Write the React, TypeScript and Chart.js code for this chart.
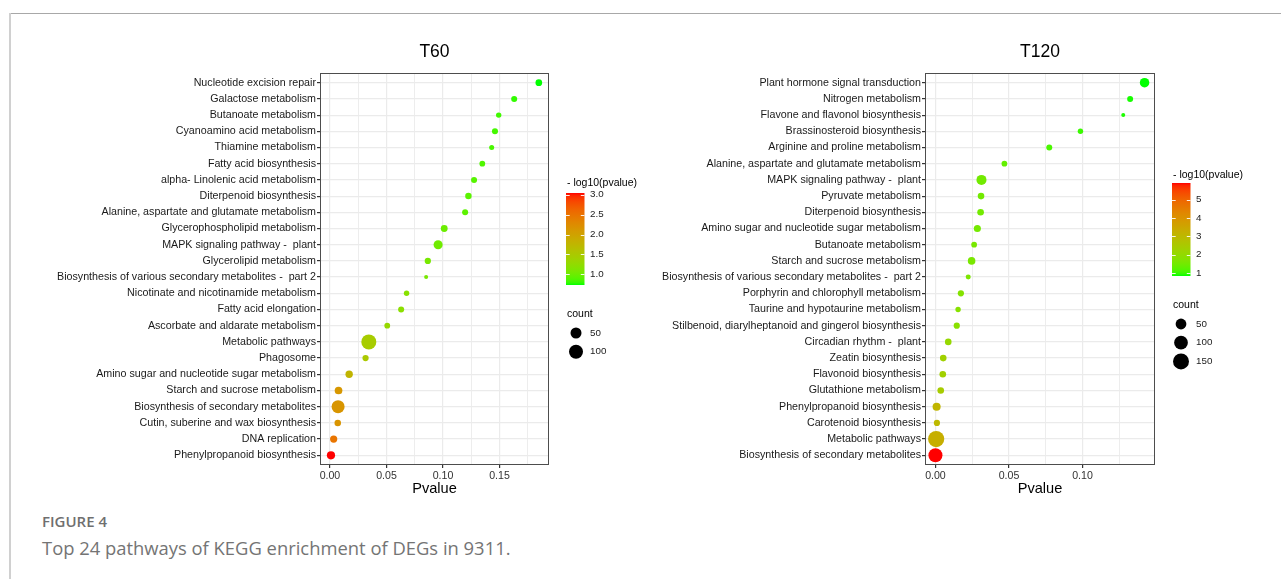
import React, { useEffect, useRef } from "react";
import { Chart, registerables } from "chart.js";

Chart.register(...registerables);

// ---------------- DATA ----------------
const t60Pathways = [
  "Nucleotide excision repair",
  "Galactose metabolism",
  "Butanoate metabolism",
  "Cyanoamino acid metabolism",
  "Thiamine metabolism",
  "Fatty acid biosynthesis",
  "alpha- Linolenic acid metabolism",
  "Diterpenoid biosynthesis",
  "Alanine, aspartate and glutamate metabolism",
  "Glycerophospholipid metabolism",
  "MAPK signaling pathway -  plant",
  "Glycerolipid metabolism",
  "Biosynthesis of various secondary metabolites -  part 2",
  "Nicotinate and nicotinamide metabolism",
  "Fatty acid elongation",
  "Ascorbate and aldarate metabolism",
  "Metabolic pathways",
  "Phagosome",
  "Amino sugar and nucleotide sugar metabolism",
  "Starch and sucrose metabolism",
  "Biosynthesis of secondary metabolites",
  "Cutin, suberine and wax biosynthesis",
  "DNA replication",
  "Phenylpropanoid biosynthesis",
];
const t60Pvalues = [
  0.1848, 0.163, 0.1493, 0.146, 0.1431, 0.1348, 0.1275, 0.1225, 0.1196, 0.1011,
  0.0957, 0.0866, 0.0851, 0.0678, 0.063, 0.0507, 0.0344, 0.0315, 0.017, 0.0076,
  0.0072, 0.0069, 0.0033, 0.00091,
];
const t60Counts = [
  10, 7, 5, 7, 4, 6, 7, 9, 7, 11, 28, 8, 3, 5, 7, 6, 120, 8, 14, 16, 82, 9, 13, 20,
];

const t120Pathways = [
  "Plant hormone signal transduction",
  "Nitrogen metabolism",
  "Flavone and flavonol biosynthesis",
  "Brassinosteroid biosynthesis",
  "Arginine and proline metabolism",
  "Alanine, aspartate and glutamate metabolism",
  "MAPK signaling pathway -  plant",
  "Pyruvate metabolism",
  "Diterpenoid biosynthesis",
  "Amino sugar and nucleotide sugar metabolism",
  "Butanoate metabolism",
  "Starch and sucrose metabolism",
  "Biosynthesis of various secondary metabolites -  part 2",
  "Porphyrin and chlorophyll metabolism",
  "Taurine and hypotaurine metabolism",
  "Stilbenoid, diarylheptanoid and gingerol biosynthesis",
  "Circadian rhythm -  plant",
  "Zeatin biosynthesis",
  "Flavonoid biosynthesis",
  "Glutathione metabolism",
  "Phenylpropanoid biosynthesis",
  "Carotenoid biosynthesis",
  "Metabolic pathways",
  "Biosynthesis of secondary metabolites",
];
const t120Pvalues = [
  0.1422, 0.1324, 0.1277, 0.0986, 0.0774, 0.0469, 0.0313, 0.031, 0.0307, 0.0285,
  0.0263, 0.0246, 0.0223, 0.0173, 0.0154, 0.0145, 0.0087, 0.0053, 0.005, 0.0036,
  0.0008, 0.001, 0.0005, 0.00000126,
];
const t120Counts = [
  34, 7, 3, 5, 7, 6, 40, 10, 10, 13, 6, 16, 4, 8, 5, 8, 10, 10, 10, 10, 20, 8, 155, 105,
];

const t60XTickValues = [0, 0.05, 0.1, 0.15];
const t60XTickLabels = ["0.00", "0.05", "0.10", "0.15"];
const t120XTickValues = [0, 0.05, 0.1];
const t120XTickLabels = ["0.00", "0.05", "0.10"];

const t60ColorTickValues = [1.0, 1.5, 2.0, 2.5, 3.0];
const t60ColorTickLabels = ["1.0", "1.5", "2.0", "2.5", "3.0"];
const t120ColorTickValues = [1, 2, 3, 4, 5];
const t120ColorTickLabels = ["1", "2", "3", "4", "5"];

const t60CountLegend = [50, 100];
const t120CountLegend = [50, 100, 150];

// ---------------- COLOUR (Lab ramp green -> red, like ggplot) ----------------
const lin = (c: number) => {
  const v = c / 255;
  return v <= 0.04045 ? v / 12.92 : Math.pow((v + 0.055) / 1.055, 2.4);
};
const gam = (c: number) => {
  const v = c <= 0.0031308 ? 12.92 * c : 1.055 * Math.pow(c, 1 / 2.4) - 0.055;
  return Math.round(Math.max(0, Math.min(1, v)) * 255);
};
function rgbToLab(rgb: number[]) {
  const R = lin(rgb[0]), G = lin(rgb[1]), B = lin(rgb[2]);
  const X = (0.4124564 * R + 0.3575761 * G + 0.1804375 * B) / 0.95047;
  const Y = 0.2126729 * R + 0.7151522 * G + 0.072175 * B;
  const Z = (0.0193339 * R + 0.119192 * G + 0.9503041 * B) / 1.08883;
  const f = (t: number) => (t > 216 / 24389 ? Math.cbrt(t) : ((24389 / 27) * t + 16) / 116);
  const fx = f(X), fy = f(Y), fz = f(Z);
  return [116 * fy - 16, 500 * (fx - fy), 200 * (fy - fz)];
}
function labToRgb(lab: number[]) {
  const fy = (lab[0] + 16) / 116;
  const fx = fy + lab[1] / 500;
  const fz = fy - lab[2] / 200;
  const finv = (t: number) => (t * t * t > 216 / 24389 ? t * t * t : (116 * t - 16) / (24389 / 27));
  const X = finv(fx) * 0.95047, Y = finv(fy), Z = finv(fz) * 1.08883;
  const R = 3.2404542 * X - 1.5371385 * Y - 0.4985314 * Z;
  const G = -0.969266 * X + 1.8760108 * Y + 0.041556 * Z;
  const B = 0.0556434 * X - 0.2040259 * Y + 1.0572252 * Z;
  return [gam(R), gam(G), gam(B)];
}
const LAB_LOW = rgbToLab([0, 255, 0]);
const LAB_HIGH = rgbToLab([255, 0, 0]);
function ramp(t: number) {
  const u = Math.max(0, Math.min(1, t));
  const lab = LAB_LOW.map((v, i) => v + (LAB_HIGH[i] - v) * u);
  const c = labToRgb(lab);
  return `rgb(${c[0]},${c[1]},${c[2]})`;
}

// ---------------- PANEL CONFIG ----------------
interface PanelCfg {
  title: string;
  pathways: string[];
  pvalues: number[];
  counts: number[];
  xTickValues: number[];
  xTickLabels: string[];
  xMin: number;
  xMax: number;
  colorTickValues: number[];
  colorTickLabels: string[];
  countLegend: number[];
  rMin: number;
  rMax: number;
  pageX: number;
  w: number;
  h: number;
  area: { left: number; right: number; top: number; bottom: number };
  legend: { x: number; titleY: number; barTop: number; barBottom: number; countY: number; dotX: number; dotY0: number; dotStep: number; labelX: number };
}

const FONT = "'Liberation Sans', Arial, Helvetica, sans-serif";

const panels: PanelCfg[] = [
  {
    title: "T60",
    pathways: t60Pathways,
    pvalues: t60Pvalues,
    counts: t60Counts,
    xTickValues: t60XTickValues,
    xTickLabels: t60XTickLabels,
    xMin: -0.0088,
    xMax: 0.1938,
    colorTickValues: t60ColorTickValues,
    colorTickLabels: t60ColorTickLabels,
    countLegend: t60CountLegend,
    rMin: 2,
    rMax: 7.5,
    pageX: 0,
    w: 640,
    h: 500,
    area: { left: 320, right: 549, top: 73, bottom: 465 },
    legend: { x: 566, titleY: 183, barTop: 193, barBottom: 285, countY: 314, dotX: 576, dotY0: 333, dotStep: 18.7, labelX: 590 },
  },
  {
    title: "T120",
    pathways: t120Pathways,
    pvalues: t120Pvalues,
    counts: t120Counts,
    xTickValues: t120XTickValues,
    xTickLabels: t120XTickLabels,
    xMin: -0.0071,
    xMax: 0.1493,
    colorTickValues: t120ColorTickValues,
    colorTickLabels: t120ColorTickLabels,
    countLegend: t120CountLegend,
    rMin: 2,
    rMax: 8.1,
    pageX: 640,
    w: 641,
    h: 500,
    area: { left: 285, right: 515, top: 73, bottom: 465 },
    legend: { x: 532, titleY: 175, barTop: 183, barBottom: 276, countY: 305, dotX: 541, dotY0: 324, dotStep: 18.7, labelX: 556 },
  },
];

function PanelChart({ cfg }: { cfg: PanelCfg }) {
  const ref = useRef<HTMLCanvasElement>(null);

  useEffect(() => {
    const canvas = ref.current;
    if (!canvas) return;
    const n = cfg.pathways.length;
    const logs = cfg.pvalues.map((p) => -Math.log10(p));
    const lo = Math.min(...logs);
    const hi = Math.max(...logs);
    const cMin = Math.min(...cfg.counts);
    const cMax = Math.max(...cfg.counts);
    const radius = (c: number) =>
      cfg.rMin + (cfg.rMax - cfg.rMin) * Math.sqrt(Math.max(0, (c - cMin) / (cMax - cMin)));
    const colorOf = (v: number) => ramp((v - lo) / (hi - lo));

    const step = cfg.xTickValues[1] - cfg.xTickValues[0];
    const xTicks: { value: number; gg: boolean; lab: string }[] = [];
    cfg.xTickValues.forEach((v, i) => {
      xTicks.push({ value: v, gg: true, lab: cfg.xTickLabels[i] });
      if (v + step / 2 <= cfg.xMax) xTicks.push({ value: v + step / 2, gg: false, lab: "" });
    });

    const points = cfg.pathways.map((_, i) => ({ x: cfg.pvalues[i], y: i + 1 }));

    const decor = {
      id: "decor",
      afterDraw(chart: any) {
        const ctx: CanvasRenderingContext2D = chart.ctx;
        const a = chart.chartArea;
        ctx.save();
        // panel border
        ctx.strokeStyle = "#4d4d4d";
        ctx.lineWidth = 1;
        ctx.strokeRect(Math.round(a.left) + 0.5, Math.round(a.top) + 0.5, Math.round(a.right - a.left) - 1, Math.round(a.bottom - a.top) - 1);
        const cx = (a.left + a.right) / 2;
        // title
        ctx.fillStyle = "#000";
        ctx.textAlign = "center";
        ctx.textBaseline = "middle";
        ctx.font = `17.5px ${FONT}`;
        ctx.fillText(cfg.title, cx, 52);
        // axis title
        ctx.font = `14.6px ${FONT}`;
        ctx.fillText("Pvalue", cx, 489);

        // colour legend
        const L = cfg.legend;
        ctx.textAlign = "left";
        ctx.font = `10.5px ${FONT}`;
        ctx.fillStyle = "#000";
        ctx.fillText("- log10(pvalue)", L.x + 1, L.titleY);
        const bw = 18.5;
        const grad = ctx.createLinearGradient(0, L.barTop, 0, L.barBottom);
        const N = 40;
        for (let i = 0; i <= N; i++) grad.addColorStop(i / N, ramp(1 - i / N));
        ctx.fillStyle = grad;
        ctx.fillRect(L.x, L.barTop, bw, L.barBottom - L.barTop);
        const yOf = (v: number) => L.barBottom - ((v - lo) / (hi - lo)) * (L.barBottom - L.barTop);
        ctx.strokeStyle = "rgba(255,255,255,0.9)";
        ctx.lineWidth = 1;
        ctx.font = `9.8px ${FONT}`;
        ctx.fillStyle = "#222";
        cfg.colorTickValues.forEach((v, i) => {
          const y = Math.round(yOf(v)) + 0.5;
          ctx.beginPath();
          ctx.moveTo(L.x, y);
          ctx.lineTo(L.x + bw / 5, y);
          ctx.moveTo(L.x + bw - bw / 5, y);
          ctx.lineTo(L.x + bw, y);
          ctx.stroke();
          ctx.fillText(cfg.colorTickLabels[i], L.labelX, yOf(v));
        });

        // size legend
        ctx.font = `10.5px ${FONT}`;
        ctx.fillStyle = "#000";
        ctx.fillText("count", L.x + 1, L.countY);
        ctx.font = `9.8px ${FONT}`;
        cfg.countLegend.forEach((c, i) => {
          const y = L.dotY0 + i * L.dotStep;
          ctx.fillStyle = "#000";
          ctx.beginPath();
          ctx.arc(L.dotX, y, radius(c), 0, Math.PI * 2);
          ctx.fill();
          ctx.fillStyle = "#222";
          ctx.fillText(String(c), L.labelX, y);
        });
        ctx.restore();
      },
    };

    const chart = new Chart(canvas, {
      type: "scatter",
      data: {
        datasets: [
          {
            data: points,
            pointRadius: cfg.counts.map((c) => radius(c)),
            pointHoverRadius: cfg.counts.map((c) => radius(c)),
            pointBackgroundColor: logs.map((v) => colorOf(v)),
            pointBorderWidth: 0,
            pointBorderColor: "rgba(0,0,0,0)",
          } as any,
        ],
      },
      options: {
        animation: false,
        responsive: false,
        devicePixelRatio: 1,
        events: [],
        layout: {
          padding: { top: cfg.area.top, left: 0, right: cfg.w - cfg.area.right, bottom: cfg.h - cfg.area.bottom - 30 },
        },
        plugins: {
          legend: { display: false },
          tooltip: { enabled: false },
          title: { display: false },
        },
        scales: {
          x: {
            type: "linear",
            min: cfg.xMin,
            max: cfg.xMax,
            afterBuildTicks: (s: any) => {
              s.ticks = xTicks.map((t) => ({ value: t.value, gg: t.gg, lab: t.lab }));
            },
            afterFit: (s: any) => {
              s.height = 30;
            },
            border: { display: false },
            grid: {
              color: "#ebebeb",
              lineWidth: (ctx: any) => (ctx.tick && ctx.tick.gg ? 1.2 : 0.9),
              tickColor: (ctx: any) => (ctx.tick && ctx.tick.gg ? "#333333" : "rgba(0,0,0,0)"),
              tickLength: 3,
              drawTicks: true,
            },
            ticks: {
              autoSkip: false,
              maxRotation: 0,
              padding: 2,
              color: "#333",
              font: { family: FONT, size: 10.6 },
              callback: (_v: any, i: number) => (xTicks[i] ? xTicks[i].lab : ""),
            },
          },
          y: {
            type: "linear",
            min: 0.4,
            max: n + 0.6,
            reverse: true,
            afterBuildTicks: (s: any) => {
              s.ticks = cfg.pathways.map((_, i) => ({ value: i + 1 }));
            },
            afterFit: (s: any) => {
              s.width = cfg.area.left;
            },
            border: { display: false },
            grid: {
              color: "#ebebeb",
              lineWidth: 1.2,
              tickColor: "#333333",
              tickLength: 3,
              drawTicks: true,
            },
            ticks: {
              autoSkip: false,
              padding: 1,
              color: "#1a1a1a",
              font: { family: FONT, size: 10.7 },
              callback: (_v: any, i: number) => cfg.pathways[i],
            },
          },
        },
      } as any,
      plugins: [decor],
    });
    return () => chart.destroy();
  }, [cfg]);

  return (
    <canvas
      ref={ref}
      width={cfg.w}
      height={cfg.h}
      style={{ position: "absolute", left: cfg.pageX, top: 0, width: cfg.w, height: cfg.h }}
    />
  );
}

export default function App() {
  return (
    <div style={{ position: "absolute", left: 0, top: 0, width: 1281, height: 579, background: "#fff", overflow: "hidden" }}>
      <div style={{ position: "absolute", left: 9, top: 13, width: 1272, height: 0, borderTop: "1px solid #a8a8a8" }} />
      <div style={{ position: "absolute", left: 9, top: 13, width: 0, height: 566, borderLeft: "2px solid #d0d0d0" }} />
      {panels.map((p) => (
        <PanelChart key={p.title} cfg={p} />
      ))}
      <div
        style={{
          position: "absolute",
          left: 42,
          top: 512,
          fontFamily: "'Open Sans', 'Noto Sans', sans-serif",
          fontWeight: 600,
          fontSize: 15,
          lineHeight: "18px",
          color: "#6f6f6f",
          whiteSpace: "nowrap",
        }}
      >
        FIGURE 4
      </div>
      <div
        style={{
          position: "absolute",
          left: 42,
          top: 536,
          fontFamily: "'Open Sans', 'Noto Sans', sans-serif",
          fontWeight: 400,
          fontSize: 18.4,
          lineHeight: "24px",
          color: "#747474",
          whiteSpace: "nowrap",
        }}
      >
        Top 24 pathways of KEGG enrichment of DEGs in 9311.
      </div>
    </div>
  );
}
